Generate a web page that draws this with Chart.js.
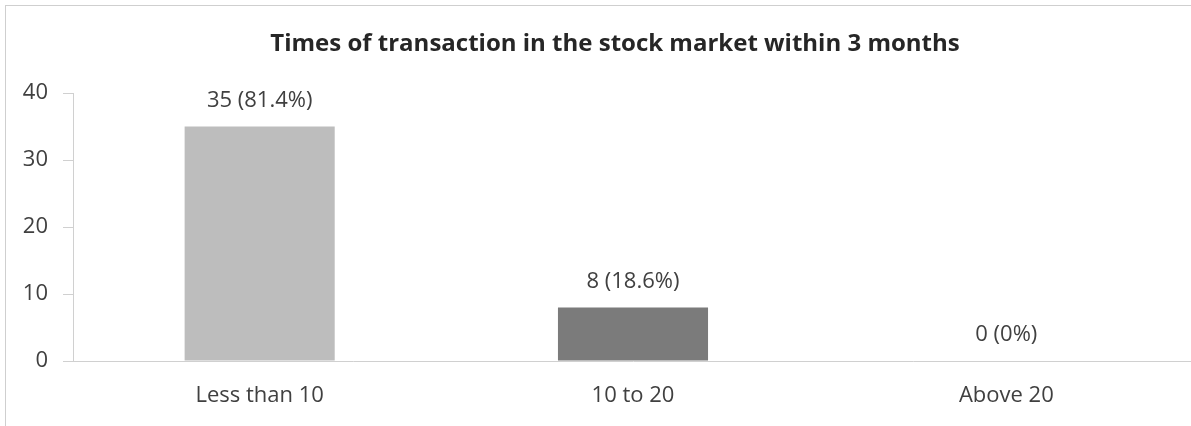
<!DOCTYPE html>
<html>
<head>
<meta charset="utf-8">
<script src="https://cdn.jsdelivr.net/npm/chart.js@4/dist/chart.umd.min.js"></script>
<style>
  html, body { margin: 0; padding: 0; background: #ffffff; overflow: hidden; }
  #wrap { position: relative; width: 1200px; height: 426px; }
  #frame { position: absolute; left: 5px; top: 5px; width: 1300px; height: 500px;
           border-left: 1px solid #cfcfcf; border-top: 1px solid #cfcfcf; box-sizing: border-box; }
  #c { position: absolute; left: 0; top: 0; }
</style>
</head>
<body>
<div id="wrap">
  <div id="frame"></div>
  <canvas id="c" width="1200" height="426"></canvas>
</div>
<script>
const titleText = 'Times of transaction in the stock market within 3 months';
const categories = ['Less than 10', '10 to 20', 'Above 20'];
const counts = [35, 8, 0];
const percents = ['81.4%', '18.6%', '0%'];
const barColors = ['#bdbdbd', '#7b7b7b', '#bdbdbd'];
const yTicks = [0, 10, 20, 30, 40];

const FONT = '"Open Sans", sans-serif';

const valueLabels = {
  id: 'valueLabels',
  afterLayout(chart) {
    // shift the title box so it is centred like the original
    if (chart.titleBlock) { chart.titleBlock.left = 37; }
  },
  afterDatasetsDraw(chart) {
    const ctx = chart.ctx;
    const meta = chart.getDatasetMeta(0);
    ctx.save();
    ctx.font = '22px ' + FONT;
    ctx.fillStyle = '#404040';
    ctx.textAlign = 'center';
    ctx.textBaseline = 'middle';
    meta.data.forEach((bar, i) => {
      ctx.fillText(counts[i] + ' (' + percents[i] + ')', bar.x, bar.y - 26);
    });
    ctx.restore();
  }
};

new Chart(document.getElementById('c'), {
  type: 'bar',
  data: {
    labels: categories,
    datasets: [{
      data: counts,
      backgroundColor: barColors,
      borderWidth: 0,
      categoryPercentage: 1,
      barPercentage: 0.402
    }]
  },
  options: {
    responsive: false,
    animation: false,
    layout: { padding: { left: 0, right: 7, top: 0, bottom: 0 } },
    plugins: {
      legend: { display: false },
      tooltip: { enabled: false },
      title: {
        display: true,
        text: titleText,
        color: '#262626',
        font: { family: FONT, size: 24, weight: 'bold' },
        padding: { top: 30, bottom: 34.2 }
      }
    },
    scales: {
      x: {
        afterFit(s) { s.height = 65; },
        grid: { display: false, drawTicks: false },
        border: { display: true, color: '#d0d0d0', width: 1 },
        ticks: { color: '#404040', font: { family: FONT, size: 22 }, padding: 22 }
      },
      y: {
        min: 0, max: 40,
        afterFit(s) { s.width = 73; },
        afterBuildTicks(s) { s.ticks = yTicks.map(v => ({ value: v })); },
        grid: { drawOnChartArea: false, drawTicks: true, tickLength: 10, color: '#d0d0d0' },
        border: { display: true, color: '#d0d0d0', width: 1 },
        ticks: { color: '#404040', font: { family: FONT, size: 22 }, padding: 15 }
      }
    }
  },
  plugins: [valueLabels]
});
</script>
</body>
</html>
